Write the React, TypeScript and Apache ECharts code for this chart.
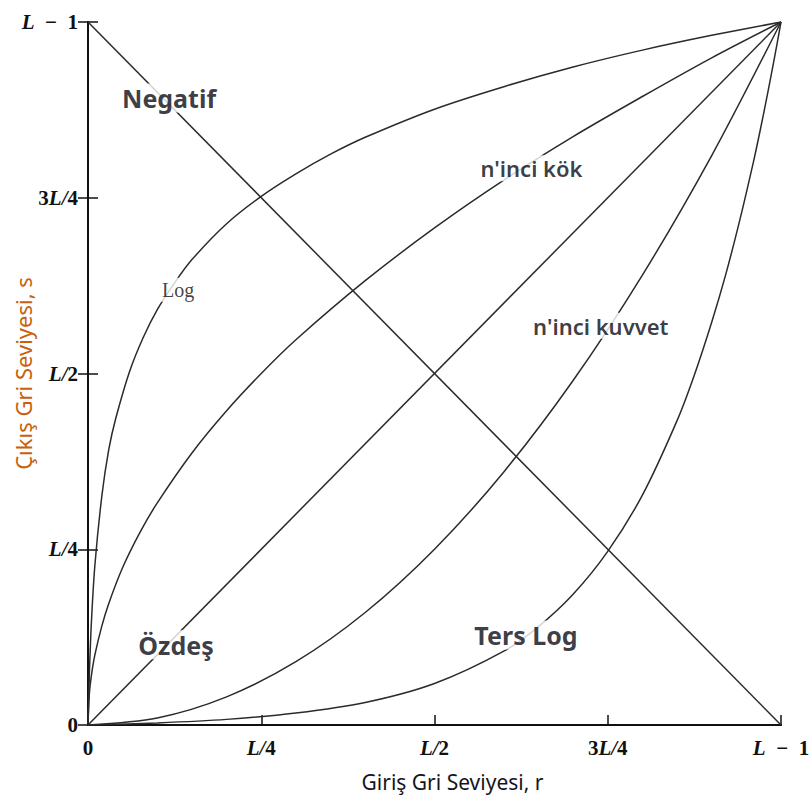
import React, { useEffect, useRef } from "react";
import * as echarts from "echarts";

// Tick labels (0 .. L-1 in quarters)
const tickLabels = ["0", "L/4", "L/2", "3L/4", "L\u2002−\u20021"];

// Identity (Özdeş)
const identityR = [0, 1];
const identityS = [0, 1];

// Negative (Negatif)
const negatifR = [0, 1];
const negatifS = [1, 0];

// Log
const logR = [0, 0.002, 0.005, 0.01, 0.02, 0.03, 0.04, 0.06, 0.08, 0.1, 0.125, 0.15, 0.2, 0.25, 0.3, 0.35, 0.4, 0.5, 0.6, 0.7, 0.8, 0.9, 1];
const logS = [0, 0.073, 0.148, 0.228, 0.326, 0.392, 0.436, 0.503, 0.552, 0.591, 0.629, 0.662, 0.713, 0.752, 0.784, 0.812, 0.836, 0.876, 0.908, 0.936, 0.96, 0.981, 1];

// Inverse log (Ters Log)
const tersLogR = [0, 0.1, 0.2, 0.3, 0.4, 0.5, 0.6, 0.65, 0.7, 0.75, 0.8, 0.85, 0.875, 0.9, 0.92, 0.94, 0.96, 0.97, 0.98, 0.99, 1];
const tersLogS = [0, 0.003, 0.008, 0.017, 0.032, 0.059, 0.105, 0.14, 0.186, 0.247, 0.327, 0.433, 0.498, 0.573, 0.64, 0.716, 0.8, 0.846, 0.895, 0.946, 1];

// nth root (n'inci kök)
const rootR = [0, 0.002, 0.005, 0.01, 0.02, 0.03, 0.05, 0.075, 0.1, 0.15, 0.2, 0.25, 0.3, 0.4, 0.5, 0.6, 0.7, 0.8, 0.9, 1];
const rootS = [0, 0.045, 0.071, 0.1, 0.141, 0.173, 0.224, 0.274, 0.316, 0.387, 0.447, 0.5, 0.548, 0.632, 0.707, 0.775, 0.837, 0.894, 0.949, 1];

// nth power (n'inci kuvvet)
const powerR = [0, 0.1, 0.2, 0.3, 0.4, 0.5, 0.6, 0.7, 0.8, 0.9, 1];
const powerS = [0, 0.01, 0.04, 0.09, 0.16, 0.25, 0.36, 0.49, 0.64, 0.81, 1];

// Curve annotations
const labelTexts = ["Negatif", "n'inci kök", "Log", "n'inci kuvvet", "Özdeş", "Ters Log"];
const labelR = [0.117, 0.64, 0.13, 0.74, 0.127, 0.632];
const labelS = [0.892, 0.792, 0.619, 0.568, 0.114, 0.128];
const labelKinds = ["big", "mid", "serif", "mid", "big", "big"];

const zip = (a: number[], b: number[]) => a.map((v, i) => [v, b[i]]);

const toRich = (s: string) =>
  s
    .split("")
    .map((ch) => (ch === "L" || ch === "/" ? `{i|${ch}}` : `{n|${ch}}`))
    .join("");

const tickFormatter = (v: number) => {
  const idx = Math.round(v * 4);
  return toRich(tickLabels[idx] ?? "");
};

const serif = "'Liberation Serif', 'DejaVu Serif', serif";
const sans = "'Noto Sans', 'Open Sans', sans-serif";

const rich = {
  n: { fontFamily: serif, fontWeight: "bold", fontSize: 21, color: "#111" },
  i: { fontFamily: serif, fontWeight: "bold", fontStyle: "italic", fontSize: 21, color: "#111" },
};

const kindStyles: Record<string, any> = {
  big: { fontFamily: sans, fontWeight: "bold", fontSize: 25, color: "#0a0a14" },
  mid: { fontFamily: sans, fontWeight: 600, fontSize: 22, color: "#0a0a14" },
  serif: { fontFamily: serif, fontWeight: "normal", fontSize: 20, color: "#111" },
};

const lineColor = "#2b2b2b";

export default function App() {
  const ref = useRef<HTMLDivElement>(null);
  useEffect(() => {
    if (!ref.current) return;
    const chart = echarts.init(ref.current, null, { renderer: "svg" });
    const curve = (data: number[][], smooth: boolean) => ({
      type: "line",
      data,
      showSymbol: false,
      smooth: smooth ? 0.3 : false,
      lineStyle: { color: lineColor, width: 1.5 },
      z: 2,
      silent: true,
    });
    chart.setOption({
      animation: false,
      backgroundColor: "#fff",
      grid: { left: 88, right: 30, top: 22, bottom: 77, containLabel: false, outerBoundsMode: "none" },
      xAxis: [
        {
          type: "value",
          min: 0,
          max: 1,
          interval: 0.25,
          position: "bottom",
          axisLine: { show: true, lineStyle: { color: "#111", width: 2 } },
          axisTick: { show: true, inside: true, length: 10, lineStyle: { color: "#111", width: 1.5 } },
          axisLabel: { margin: 12, formatter: tickFormatter, rich },
          splitLine: { show: false },
          name: "Giriş Gri Seviyesi, r",
          nameLocation: "middle",
          nameGap: 46,
          nameMoveOverlap: false,
          nameTextStyle: { fontFamily: sans, fontSize: 21, color: "#14141e", padding: [0, 0, 0, 36] },
        },
        {
          type: "value",
          min: 0,
          max: 1,
          interval: 0.25,
          position: "top",
          axisLine: { show: true, lineStyle: { color: "#111", width: 2 } },
          axisTick: { show: false },
          axisLabel: { show: false },
          splitLine: { show: false },
        },
      ],
      yAxis: [
        {
          type: "value",
          min: 0,
          max: 1,
          interval: 0.25,
          position: "left",
          axisLine: { show: true, lineStyle: { color: "#111", width: 2 } },
          axisTick: { show: true, inside: true, length: 10, lineStyle: { color: "#111", width: 1.5 } },
          axisLabel: { margin: 10, formatter: tickFormatter, rich },
          splitLine: { show: false },
          name: "Çıkış Gri Seviyesi, s",
          nameLocation: "middle",
          nameGap: 54,
          nameMoveOverlap: false,
          nameRotate: 90,
          nameTextStyle: { fontFamily: sans, fontSize: 22, color: "#c8600f" },
        },
        {
          type: "value",
          min: 0,
          max: 1,
          interval: 0.25,
          position: "right",
          axisLine: { show: true, lineStyle: { color: "#111", width: 2 } },
          axisTick: { show: true, inside: true, length: 10, lineStyle: { color: "#111", width: 1.5 } },
          axisLabel: { show: false },
          splitLine: { show: false },
        },
      ],
      series: [
        curve(zip(negatifR, negatifS), false),
        curve(zip(identityR, identityS), false),
        curve(zip(logR, logS), true),
        curve(zip(tersLogR, tersLogS), true),
        curve(zip(rootR, rootS), true),
        curve(zip(powerR, powerS), true),
        {
          type: "scatter",
          symbolSize: 1,
          itemStyle: { color: "rgba(0,0,0,0)" },
          z: 10,
          silent: true,
          data: labelTexts.map((t, i) => ({
            name: t,
            value: [labelR[i], labelS[i]],
            label: {
              show: true,
              position: "inside",
              formatter: "{b}",
              backgroundColor: "#fff",
              padding: [2, 4],
              ...kindStyles[labelKinds[i]],
            },
          })),
        },
      ],
    });
    return () => chart.dispose();
  }, []);
  return (
    <div
      ref={ref}
      style={{ position: "fixed", left: 0, top: 0, width: 811, height: 802, background: "#fff" }}
    />
  );
}
